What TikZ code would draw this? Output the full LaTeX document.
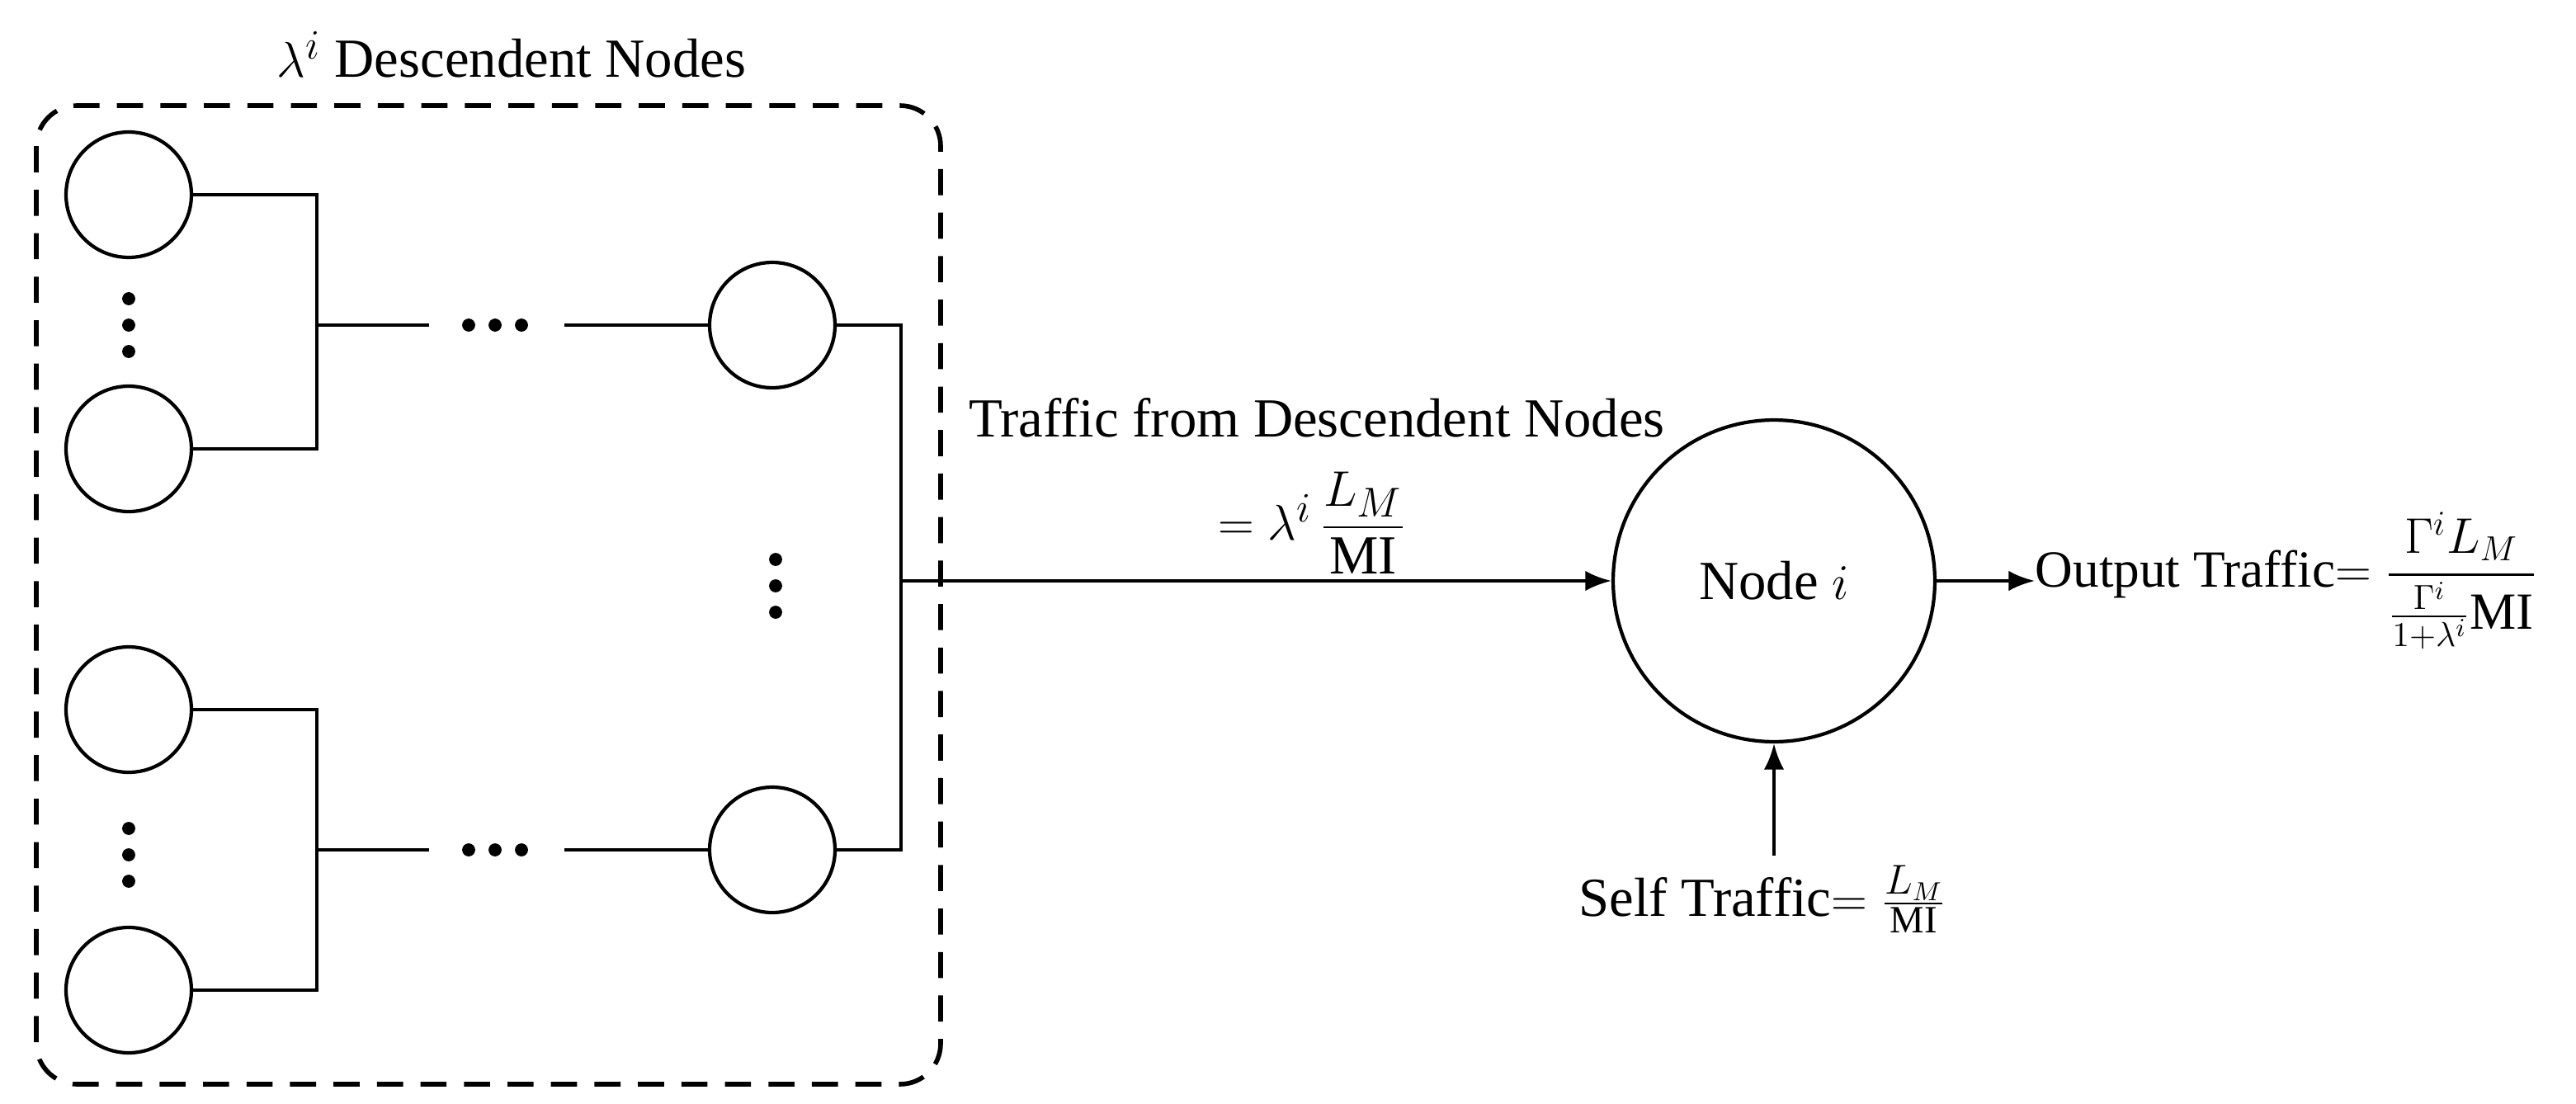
\documentclass[tikz,border=0pt]{standalone}
\usepackage{amsmath}
\usepackage{fontspec}
\setmainfont{Liberation Serif}
\usetikzlibrary{arrows.meta}
\begin{document}
\begin{tikzpicture}[x=0.02cm,y=-0.02cm,
  every node/.style={font=\fontsize{19}{23}\selectfont},
  leaf/.style={circle,draw,line width=1.2pt,minimum size=1.52cm,inner sep=0pt},
  dot/.style={circle,fill,inner sep=0pt,minimum size=4.5pt},
  link/.style={line width=1.2pt},
  flow/.style={line width=1.2pt,-{Latex[length=9pt,width=7pt]}}]
\useasboundingbox (0,0) rectangle (1561,669);
% descendent group
\draw[line width=1.6pt,dash pattern=on 9pt off 6pt,rounded corners=14pt] (22,64) rectangle (570,657);
\node (title) at (310,33) {$\lambda^i$ Descendent Nodes};
\node[leaf] (a1) at (78,118) {};
\node[leaf] (a2) at (78,272) {};
\node[leaf] (b1) at (78,430) {};
\node[leaf] (b2) at (78,600) {};
\node[leaf] (ra) at (468,197) {};
\node[leaf] (rb) at (468,515) {};
% dots
\foreach \d in {-16,0,16}{
  \node[dot] at (78,197+\d) {};
  \node[dot] at (78,518+\d) {};
  \node[dot] at (470,355+\d) {};
  \node[dot] at (300+\d,197) {};
  \node[dot] at (300+\d,515) {};
}
\coordinate (ja) at (192,197);
\coordinate (jb) at (192,515);
\coordinate (jr) at (546,352);
\draw[link] (a1.east) -| (ja) |- (a2.east);
\draw[link] (b1.east) -| (jb) |- (b2.east);
\draw[link] (ja) -- (260,197) (342,197) -- (ra.west);
\draw[link] (jb) -- (260,515) (342,515) -- (rb.west);
\draw[link] (ra.east) -| (jr) |- (rb.east);
% node i
\node[circle,draw,line width=1.2pt,minimum size=3.9cm] (ni) at (1075,352) {Node $i$};
\draw[flow] (jr) -- (ni);
\node (tfd) at (798,253) {Traffic from Descendent Nodes};
\node[anchor=south,inner sep=1pt] (eq) at (795,350) {$=\lambda^i\,\dfrac{L_M}{\mathrm{MI}}$};
\node[anchor=west,inner sep=0pt,font=\fontsize{18}{22}\selectfont] (out) at (1233,352) {Output Traffic$=\dfrac{\Gamma^iL_M}{\frac{\Gamma^i}{1+\lambda^i}\mathrm{MI}}$};
\draw[flow] (ni) -- (out);
\node (self) at (1068,545) {Self Traffic$=\frac{L_M}{\mathrm{MI}}$};
\draw[flow] (self.north -| ni) -- (ni);
\end{tikzpicture}
\end{document}
